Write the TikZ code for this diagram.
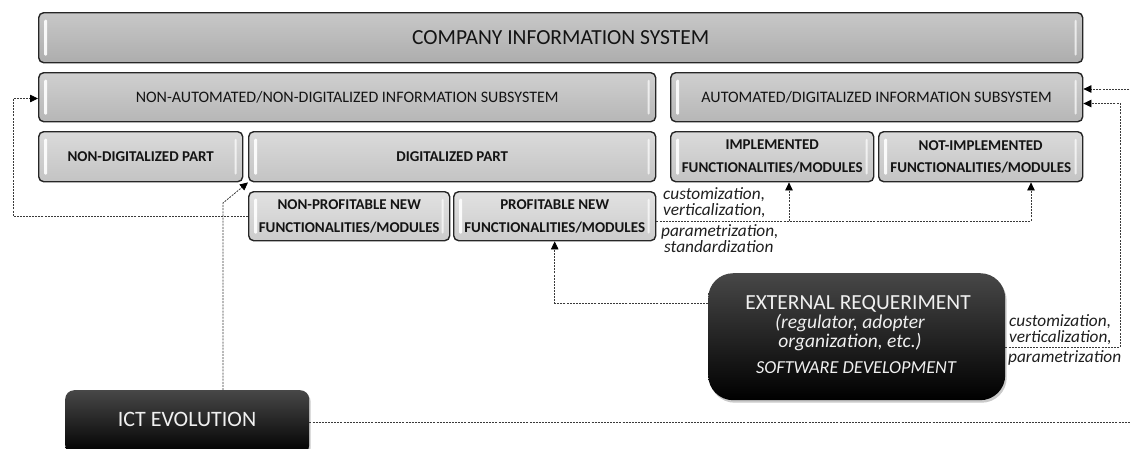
\documentclass[tikz,border=0pt]{standalone}
\usepackage{fontspec}
\setmainfont{Carlito}
\usetikzlibrary{arrows.meta,shadows,calc}

\definecolor{lvA}{HTML}{B8B8B8}
\definecolor{lvB}{HTML}{C2C2C2}
\definecolor{lvC}{HTML}{D0D0D0}
\definecolor{lvD}{HTML}{D9D9D9}
\definecolor{boxedge}{HTML}{262626}
\definecolor{conncol}{HTML}{3A3A3A}

\tikzset{
  bevel/.style={draw=boxedge, line width=1.4pt, rounded corners=5pt,
    inner sep=0pt, align=center, text=black!92, anchor=north west,
    path picture={
      \fill[white,opacity=.9,rounded corners=1.2pt]
        ([xshift=5.5pt,yshift=-7pt]path picture bounding box.north west) rectangle
        ([xshift=8.5pt,yshift=7pt]path picture bounding box.south west);
      \fill[white,opacity=.7,rounded corners=1.2pt]
        ([xshift=-8pt,yshift=-7pt]path picture bounding box.north east) rectangle
        ([xshift=-6pt,yshift=7pt]path picture bounding box.south east);
    }},
  levelA/.style={bevel, top color=lvA!78!white, middle color=lvA, bottom color=lvA!94!black},
  levelB/.style={bevel, top color=lvB!78!white, middle color=lvB, bottom color=lvB!94!black},
  levelC/.style={bevel, top color=lvC!78!white, middle color=lvC, bottom color=lvC!94!black},
  levelD/.style={bevel, top color=lvD!78!white, middle color=lvD, bottom color=lvD!94!black},
  darkbox/.style={draw=none, top color=black!72, middle color=black, bottom color=black,
    drop shadow={fill=black!60, opacity=.35, shadow xshift=1.5pt, shadow yshift=-2.5pt},
    anchor=north west, inner sep=0pt},
  conn/.style={draw=conncol, line width=0.8pt, dash pattern=on 2pt off 1.1pt},
  tip/.style={-{Triangle[length=8pt,width=7.5pt,black]}},
  bigtxt/.style={font=\fontsize{21.5}{24}\selectfont},
  midtxt/.style={font=\fontsize{16}{18}\selectfont},
  boldtxt/.style={font=\fontsize{15}{22.5}\bfseries\selectfont},
  lbl/.style={font=\fontsize{17.3}{15.2}\itshape\selectfont, inner sep=0pt, anchor=base west,
    align=left, text=black!88},
  wtxt/.style={text=white!94!black, inner sep=0pt, anchor=base, align=center}
}

\begin{document}
\begin{tikzpicture}[x=1pt,y=-1pt]
\useasboundingbox (0,0) rectangle (1130,448);

% information system hierarchy
\node[levelA, bigtxt, minimum width=1044pt, minimum height=50pt] (cis) at (38,12) {COMPANY INFORMATION SYSTEM};

\node[levelB, midtxt, minimum width=617pt, minimum height=49pt] (nonauto) at (38,72) {NON-AUTOMATED/NON-DIGITALIZED INFORMATION SUBSYSTEM};
\node[levelB, midtxt, minimum width=412pt, minimum height=49pt] (auto) at (670,72) {AUTOMATED/DIGITALIZED INFORMATION SUBSYSTEM};

\node[levelC, boldtxt, minimum width=204pt, minimum height=50pt] (nondig) at (38,131) {NON-DIGITALIZED PART};
\node[levelC, boldtxt, minimum width=407pt, minimum height=50pt] (dig) at (248,131) {DIGITALIZED PART};
\node[levelC, boldtxt, minimum width=203pt, minimum height=50pt] (impl) at (670,131) {IMPLEMENTED\\FUNCTIONALITIES/MODULES};
\node[levelC, boldtxt, minimum width=204pt, minimum height=50pt] (notimpl) at (878,131) {NOT-IMPLEMENTED\\FUNCTIONALITIES/MODULES};

\node[levelD, boldtxt, minimum width=201pt, minimum height=49pt] (nonprof) at (248,191) {NON-PROFITABLE NEW\\FUNCTIONALITIES/MODULES};
\node[levelD, boldtxt, minimum width=202pt, minimum height=49pt] (prof) at (453,191) {PROFITABLE NEW\\FUNCTIONALITIES/MODULES};

% driving forces
\node[darkbox, rounded corners=25pt, minimum width=297pt, minimum height=127pt] (ext) at (708,273) {};
\node[wtxt, font=\fontsize{21.5}{24}\selectfont] (extA) at (858,309) {EXTERNAL REQUERIMENT};
\node[wtxt, font=\fontsize{19.5}{18.7}\itshape\selectfont] (extB) at (850,347) {(regulator, adopter\\organization, etc.)};
\node[wtxt, font=\fontsize{18.3}{20}\itshape\selectfont] (extD) at (856,373) {SOFTWARE DEVELOPMENT};

\node[darkbox, rounded corners=9pt, minimum width=244pt, minimum height=64pt] (ict) at (65,390) {};
\node[wtxt, font=\fontsize{22}{24}\selectfont] (ictA) at (187,426) {ICT EVOLUTION};

% routing points
\coordinate (leftrail) at (13,0);
\coordinate (ictbend) at (223,203);
\coordinate (rightrail) at (1131,0);
\coordinate (hline) at (0,221);
\coordinate (armI) at (789,0);
\coordinate (armN) at (1031,0);
\coordinate (extout) at (0,303);
\coordinate (extback) at (1120,347);

% connectors
\draw[conn, tip] (nonprof.west) -| (leftrail |- 0,98.5) -- (nonauto.west |- 0,98.5);
\draw[conn, tip] (ictbend |- ict.north) -- (ictbend) -- (dig.south west);
\draw[conn, tip] (ict.east |- 0,422) -| (rightrail |- 0,89) -- (auto.east |- 0,89);
\draw[conn, tip] (prof.east |- hline) -| (armN |- notimpl.south);
\draw[conn, tip] (armI |- hline) -- (armI |- impl.south);
\draw[conn, tip] (ext.west |- extout) -| (prof.south);
\draw[conn, tip] (ext.east |- extback) -- (extback) |- (auto.east |- 0,103.5);

% labels
\node[lbl] (lcA) at (663,215) {customization,\\verticalization,};
\node[lbl] (lcB) at (661,252) {parametrization,\\\hspace*{3pt}standardization};
\node[lbl] (rcA) at (1009,342) {customization,\\verticalization,};
\node[lbl] (rcB) at (1008,362) {parametrization};
\end{tikzpicture}
\end{document}
